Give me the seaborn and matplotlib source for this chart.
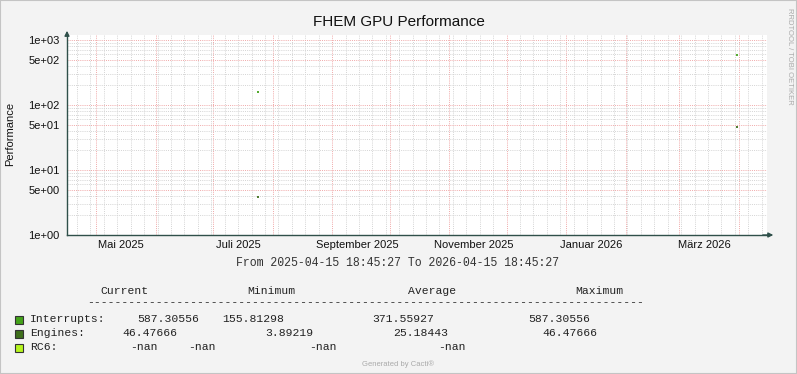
import matplotlib
matplotlib.use("Agg")
import matplotlib.pyplot as plt
import matplotlib.dates as mdates
import matplotlib.ticker as mticker
from matplotlib.patches import Rectangle
import numpy as np
import pandas as pd
import seaborn as sns

sns.set_theme(style="white")
plt.rcParams["font.family"] = ["Liberation Sans", "DejaVu Sans"]

# --- data ---
range_start = "2025-04-15 18:45:27"
range_end = "2026-04-15 18:45:27"
sample_days = ["2025-07-24 00:00", "2026-03-30 12:00"]
interrupts = [155.81298, 587.30556]
engines = [3.89219, 46.47666]

series_names = ["Interrupts", "Engines", "RC6"]
series_colors = ["#44A31A", "#3F6F1C", "#B6F51E"]

month_labels = ["Mai 2025", "Juli 2025", "September 2025", "November 2025", "Januar 2026", "März 2026"]
month_label_days = ["2025-05-14", "2025-07-14", "2025-09-14", "2025-11-14", "2026-01-14", "2026-03-14"]
ytick_vals = [1, 5, 10, 50, 100, 500, 1000]

legend_header = ["Current", "Minimum", "Average", "Maximum"]
legend_rows = [
    ["Interrupts:", "587.30556", "155.81298", "371.55927", "587.30556"],
    ["Engines:", "46.47666", "3.89219", "25.18443", "46.47666"],
    ["RC6:", "-nan", "-nan", "-nan", "-nan"],
]

# build short one-day segments (one rrd cell each)
rows = []
for i, d in enumerate(sample_days):
    t0 = pd.Timestamp(d)
    t1 = t0 + pd.Timedelta(days=1)
    for name, vals in (("Interrupts", interrupts), ("Engines", engines)):
        rows.append((t0, vals[i], name, f"{name}{i}"))
        rows.append((t1, vals[i], name, f"{name}{i}"))
df = pd.DataFrame(rows, columns=["time", "value", "series", "seg"])

W, H = 797, 374
fig = plt.figure(figsize=(W / 100, H / 100), dpi=100)
fig.patch.set_facecolor("#F3F3F3")
fig.patches.append(Rectangle((0, 0), 1, 1, transform=fig.transFigure, fill=False,
                             edgecolor="#C4C4C4", linewidth=1.5))

ax = fig.add_axes([67 / W, (H - 235) / H, 700 / W, 200 / H])
ax.set_facecolor("white")

sns.lineplot(data=df, x="time", y="value", hue="series", units="seg", estimator=None,
             palette=dict(zip(series_names, series_colors)), legend=False,
             linewidth=1.3, ax=ax, solid_capstyle="butt")

ax.set_yscale("log")
ax.set_ylim(1, 10 ** (200 / 65))
ax.set_xlim(pd.Timestamp(range_start), pd.Timestamp(range_end))

# grid: months red, weeks gray
ax.xaxis.set_major_locator(mdates.MonthLocator())
ax.xaxis.set_minor_locator(mdates.WeekdayLocator(byweekday=mdates.MO))
ax.xaxis.set_major_formatter(mticker.NullFormatter())
ax.yaxis.set_major_locator(mticker.FixedLocator(ytick_vals))
ax.yaxis.set_minor_locator(mticker.LogLocator(base=10, subs=(2, 3, 4, 6, 7, 8, 9)))
ax.yaxis.set_major_formatter(mticker.FuncFormatter(lambda v, p: f"{v:.0e}"))
ax.yaxis.set_minor_formatter(mticker.NullFormatter())

ax.grid(which="minor", color="#D4D4D4", linestyle=(0, (1, 1.2)), linewidth=0.7)
ax.grid(which="major", color="#F0A8A8", linestyle=(0, (1, 1.2)), linewidth=0.7)
ax.set_axisbelow(True)
ax.tick_params(which="both", length=0)
ax.tick_params(axis="y", labelsize=8, pad=5.5, labelcolor="#111111")
ax.set_xlabel("")
ax.set_ylabel("")

axis_col = "#2F504A"
for s in ["top", "right"]:
    ax.spines[s].set_visible(False)
for s in ["left", "bottom"]:
    ax.spines[s].set_color(axis_col)
    ax.spines[s].set_linewidth(1.0)
ax.annotate("", xy=(1.013, 0), xytext=(0.99, 0), xycoords="axes fraction",
            arrowprops=dict(arrowstyle="-|>", color=axis_col, lw=1, mutation_scale=7))
ax.annotate("", xy=(0, 1.035), xytext=(0, 0.99), xycoords="axes fraction",
            arrowprops=dict(arrowstyle="-|>", color=axis_col, lw=1, mutation_scale=7))

# month labels (centred mid-month, every second month)
for lab, d in zip(month_labels, month_label_days):
    ax.text(mdates.date2num(pd.Timestamp(d)), -0.05, lab, transform=ax.get_xaxis_transform(),
            ha="center", va="center", fontsize=8, color="#111111")

def fx(x):
    return x / W

def fy(y):
    return 1 - y / H

fig.text(fx(399), fy(22), "FHEM GPU Performance", ha="center", va="center", fontsize=11, color="#111111")
fig.text(fx(10), fy(134), "Performance", rotation=90, ha="center", va="center", fontsize=8, color="#111111")
fig.text(fx(789), fy(56), "RRDTOOL / TOBI OETIKER", rotation=270, ha="center", va="center",
         fontsize=5.5, color="#AAAAAA")

mono = ["Liberation Mono", "DejaVu Sans Mono"]
fig.text(fx(398), fy(263), f"From {range_start} To {range_end}", ha="center", va="center",
         fontsize=8.3, family=mono, color="#333333")

# legend block
header_x = [100, 247, 408, 575]
for lab, x in zip(legend_header, header_x):
    fig.text(fx(x), fy(291), lab, ha="left", va="center", fontsize=8.2, family=mono, color="#222222")
fig.text(fx(87), fy(302), "-" * 81, ha="left", va="center", fontsize=8.2, family=mono, color="#222222")

row_y = [319, 333, 347]
row_x = [
    [30, 137, 222, 372, 528],
    [30, 122, 265, 393, 542],
    [30, 130, 188, 309, 438],
]
for r, y, xs, c in zip(legend_rows, row_y, row_x, series_colors):
    fig.patches.append(Rectangle((fx(15), fy(y + 4.5)), 8 / W, 8 / H, transform=fig.transFigure,
                                 facecolor=c, edgecolor="#333333", linewidth=0.8))
    for txt, x in zip(r, xs):
        fig.text(fx(x), fy(y), txt, ha="left", va="center", fontsize=8.2, family=mono, color="#222222")

fig.text(fx(398), fy(364), "Generated by Cacti®", ha="center", va="center", fontsize=5.5, color="#AAAAAA")

fig.savefig("out.png", dpi=100, facecolor=fig.get_facecolor())
